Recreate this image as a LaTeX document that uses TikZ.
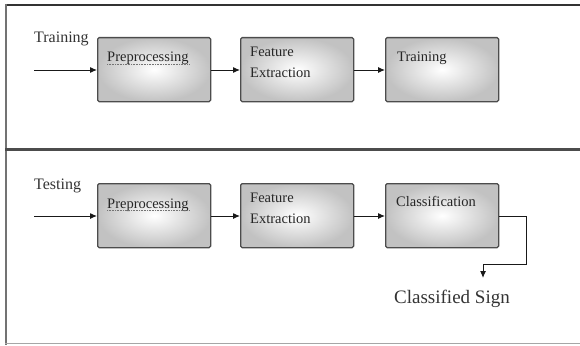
\documentclass[tikz,border=0pt]{standalone}
\usepackage{fontspec}
\setmainfont{Liberation Serif}
\usetikzlibrary{arrows.meta}
\begin{document}
\begin{tikzpicture}[x=1pt,y=-1pt,
  blk/.style={draw=black!70, line width=1.3pt, rounded corners=1.5pt,
    inner color=white, outer color=black!24, minimum width=113pt,
    minimum height=64pt, anchor=north west, inner sep=0pt},
  blktxt/.style={anchor=base west, inner sep=0pt, font=\fontsize{14.5}{21}\selectfont, align=left, text=black!85},
  lbl/.style={anchor=base west, inner sep=0pt, font=\fontsize{16}{20}\selectfont, text=black!80},
  arr/.style={draw=black!90, line width=1pt, -{Latex[length=7pt,width=6pt]}},
  frame/.style={line width=2pt, draw=black!80}
  ]
\useasboundingbox (0,0) rectangle (580,345);
% frame
\draw[frame] (5,5) -- (580,5);
\draw[line width=2.5pt, draw=black!55] (6,4) -- (6,345);
\draw[line width=3pt, draw=black!70] (5,149) -- (580,149);
\draw[line width=1pt, draw=black!35] (5,343) -- (580,343);

% training row
\node[lbl] (trl) at (34,42) {Training};
\node[blk] (pre1) at (97,37) {};
\node[blk] (fe1) at (240,37) {};
\node[blk] (tr1) at (385,37) {};
\node[blktxt] (pre1t) at (107,62) {Preprocessing};
\draw[densely dotted, black!55, line width=0.6pt] ([yshift=-2.5pt]pre1t.base west) -- ([yshift=-2.5pt]pre1t.base east);
\node[blktxt, anchor=north west] (fe1t) at (250,47) {Feature\\Extraction};
\node[blktxt] (tr1t) at (397,61) {Training};
\coordinate (in1) at (34,70);
\draw[arr] (in1) -- (pre1.west |- in1);
\draw[arr] (pre1.east |- in1) -- (fe1.west |- in1);
\draw[arr] (fe1.east |- in1) -- (tr1.west |- in1);

% testing row
\node[lbl] (tsl) at (34,189) {Testing};
\node[blk] (pre2) at (97,183) {};
\node[blk] (fe2) at (240,183) {};
\node[blk] (cl2) at (385,183) {};
\node[blktxt] (pre2t) at (107,208) {Preprocessing};
\draw[densely dotted, black!55, line width=0.6pt] ([yshift=-2.5pt]pre2t.base west) -- ([yshift=-2.5pt]pre2t.base east);
\node[blktxt, anchor=north west] (fe2t) at (250,193) {Feature\\Extraction};
\node[blktxt] (cl2t) at (396,206) {Classification};
\coordinate (in2) at (34,216);
\draw[arr] (in2) -- (pre2.west |- in2);
\draw[arr] (pre2.east |- in2) -- (fe2.west |- in2);
\draw[arr] (fe2.east |- in2) -- (cl2.west |- in2);

\node[anchor=base, inner sep=0pt, font=\fontsize{19}{22}\selectfont, text=black!80] (sign) at (452,303) {Classified Sign};
\coordinate (out) at (483,278);
\draw[arr] (cl2.east |- in2) -- (526,216) -- (526,264) -- (483,264) -- (out);
\end{tikzpicture}
\end{document}
